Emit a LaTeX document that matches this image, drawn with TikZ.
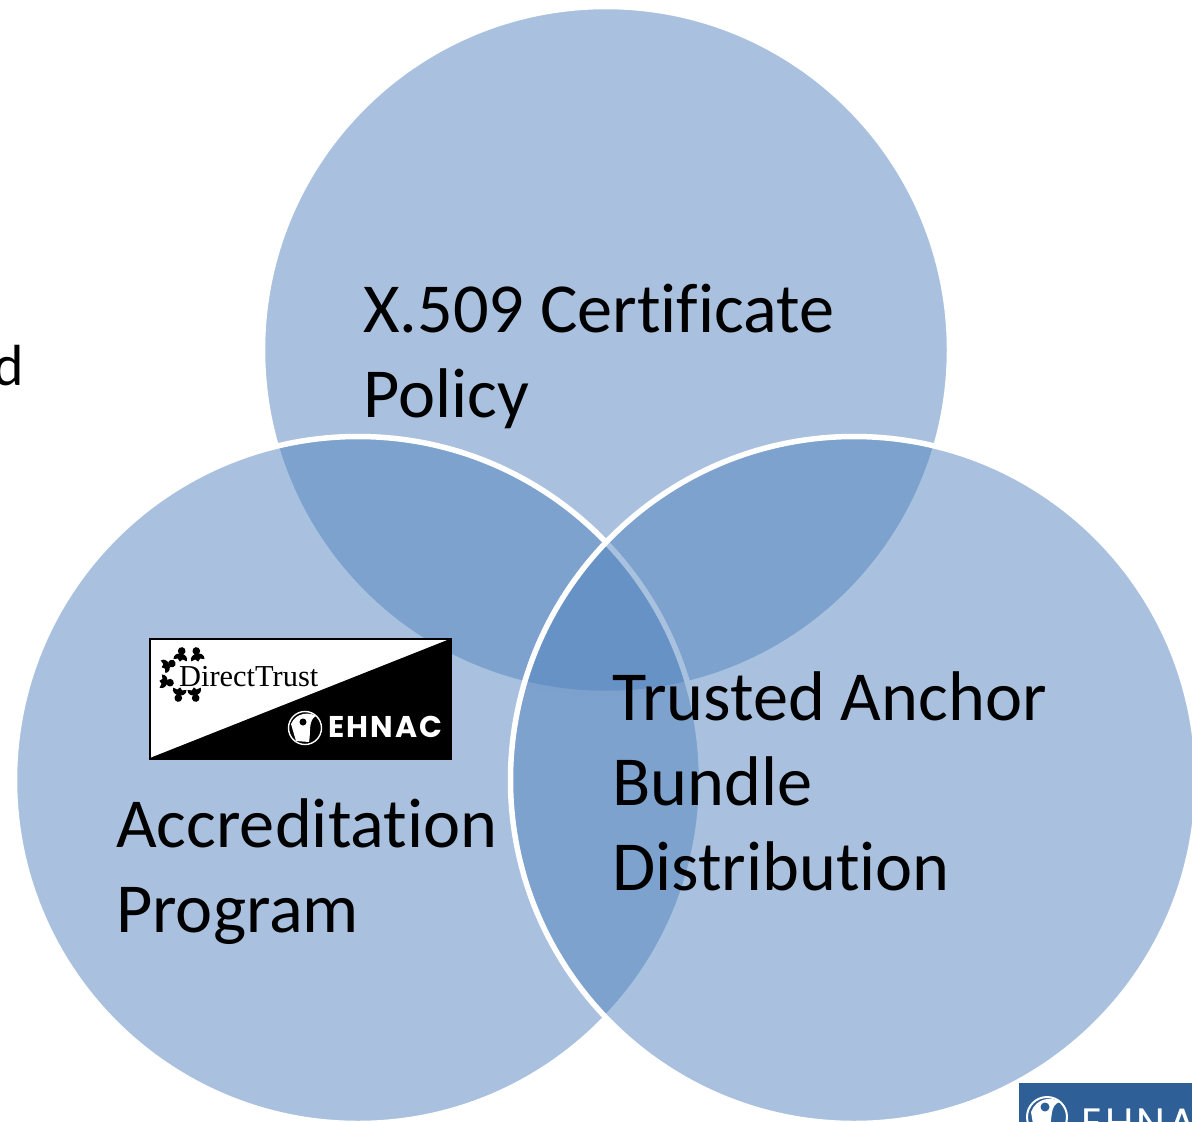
\documentclass[tikz,border=0pt]{standalone}
\usepackage{fontspec}
\setmainfont[RawFeature={-liga}]{Carlito}
\newfontfamily\logoserif{Liberation Serif}
\newfontfamily\logosans[LetterSpace=7]{Poppins}
\definecolor{vennblue}{HTML}{4F81BD}
\definecolor{logoblue}{HTML}{2E5F96}
\tikzset{
  venn/.style={circle,minimum size=687pt,inner sep=0pt,outer sep=0pt,fill=vennblue,fill opacity=.49,draw=white,draw opacity=1,line width=5.5pt},
  vlabel/.style={anchor=north west,inner sep=0pt,align=left,text=black,font=\fontsize{70.3}{85}\selectfont},
  figure/.pic={\fill[black] (0,-3.4) circle (3.2pt); \fill[black] (-5.6,4.4) .. controls (-7,-3) and (7,-3) .. (5.6,4.4) -- (2,3.4) -- (0,5.6) -- (-2,3.4) -- cycle;},
}
\begin{document}
\begin{tikzpicture}[x=1pt,y=-1pt]
\useasboundingbox (0,0) rectangle (1192,1122);
\begin{scope}
\clip (0,0) rectangle (1192,1122);
\node[venn] (top) at (606,350) {};
\node[venn] (left) at (358,780) {};
\node[venn] (right) at (854,780) {};
\node[anchor=base west,inner sep=0pt,font=\fontsize{58}{70}\selectfont] (cut) at (-7,385) {d};
% lower right logo, cut by the page
\fill[logoblue] (1019,1083) rectangle (1192,1130);
\draw[white,line width=2pt] (1047,1117) circle (20pt);
\fill[white] (1031,1112) .. controls (1036,1098) and (1052,1096) .. (1060,1102) .. controls (1050,1104) and (1052,1118) .. (1050,1130) -- (1034,1130) -- cycle;
\fill[logoblue] (1045,1107) circle (4.5pt);
\node[anchor=base west,inner sep=0pt,text=white,font=\logosans\fontsize{41}{48}\selectfont] (ehnacb) at (1081,1137) {EHNAC};
\end{scope}
\node[vlabel] (xlabel) at (363,284) {X.509 Certificate\\Policy};
\node[vlabel] (tlabel) at (612,671) {Trusted Anchor\\Bundle\\Distribution};
\node[vlabel] (alabel) at (116,798) {Accreditation\\Program};
% logo
\fill[white] (150,639) -- (450,639) -- (150,758) -- cycle;
\fill[black] (450,639) -- (450,758) -- (150,758) -- cycle;
\draw[black,line width=2pt] (150,639) rectangle (451,759);
\path (181,655) pic[scale=1.2,rotate=-10] {figure};
\path (197,655) pic[scale=1.2,rotate=10] {figure};
\path (168,665) pic[scale=1.2,rotate=-70] {figure};
\path (166,682) pic[scale=1.2,rotate=-100] {figure};
\path (179,694) pic[scale=1.2,rotate=170] {figure};
\path (195,694) pic[scale=1.2,rotate=190] {figure};
\node[anchor=base west,inner sep=0pt,text=black,font=\logoserif\fontsize{30.4}{34}\selectfont] (dt) at (179,686) {DirectTrust};
\draw[white,line width=1.4pt] (305,728) circle (16.5pt);
\fill[white] (291,724) .. controls (296,712) and (310,712) .. (316,716) .. controls (308,720) and (311,732) .. (309,742) -- (296,741) -- cycle;
\fill[black] (303,722) circle (3.5pt);
\node[anchor=base west,inner sep=0pt,text=white,font=\logosans\bfseries\fontsize{30}{36}\selectfont] (ehnac) at (328,737) {EHNAC};
\end{tikzpicture}
\end{document}
